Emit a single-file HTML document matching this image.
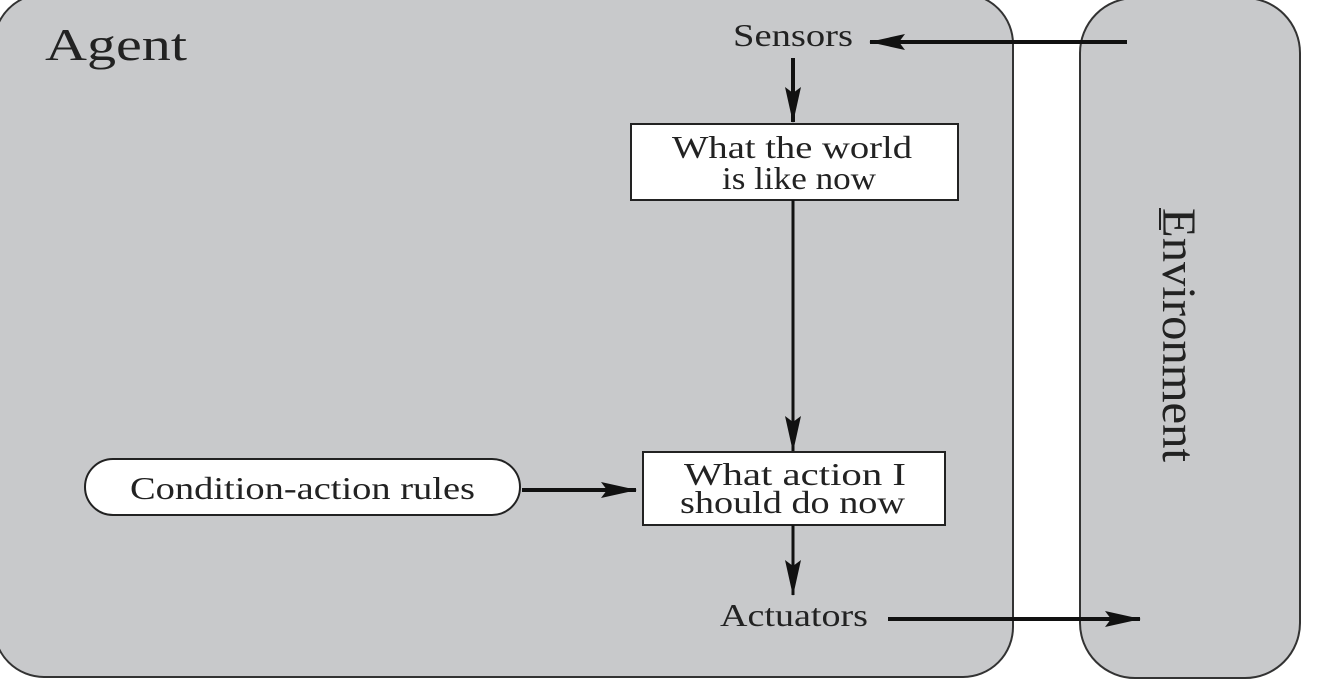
<!DOCTYPE html>
<html><head><style>html,body{margin:0;padding:0;background:#fff;}svg{display:block}</style></head>
<body>
<svg width="1330" height="680" viewBox="0 0 1330 680" xmlns="http://www.w3.org/2000/svg" font-family="Liberation Serif, serif" fill="#222">
<defs>
<marker id="av" markerWidth="36" markerHeight="16" refX="35" refY="8" orient="auto" markerUnits="userSpaceOnUse" viewBox="0 0 36 16">
<path d="M0,0 L36,8 L0,16 L6,8 Z" fill="#111"/></marker>
</defs>
<rect x="-6" y="-6" width="1019" height="683" rx="50" fill="#c8c9cb" stroke="#333" stroke-width="2"/>
<rect x="1080" y="-2" width="220" height="680" rx="55" fill="#c8c9cb" stroke="#333" stroke-width="2"/>
<text x="45" y="60" font-size="46" textLength="142" lengthAdjust="spacingAndGlyphs">Agent</text>
<text x="733" y="46" font-size="32" textLength="120" lengthAdjust="spacingAndGlyphs">Sensors</text>
<line x1="1127" y1="42" x2="870" y2="42" stroke="#111" stroke-width="4" marker-end="url(#av)"/>
<line x1="793" y1="58" x2="793" y2="122" stroke="#111" stroke-width="4" marker-end="url(#av)"/>
<rect x="631" y="124" width="327" height="76" fill="#fff" stroke="#222" stroke-width="2"/>
<text x="672" y="158" font-size="32" textLength="240" lengthAdjust="spacingAndGlyphs">What the world</text>
<text x="722" y="189" font-size="32" textLength="154" lengthAdjust="spacingAndGlyphs">is like now</text>
<line x1="793" y1="200" x2="793" y2="451" stroke="#111" stroke-width="3" marker-end="url(#av)"/>
<rect x="643" y="452" width="302" height="73" fill="#fff" stroke="#222" stroke-width="2"/>
<text x="684" y="485" font-size="32" textLength="222" lengthAdjust="spacingAndGlyphs">What action I</text>
<text x="680" y="513" font-size="32" textLength="225" lengthAdjust="spacingAndGlyphs">should do now</text>
<rect x="85" y="459" width="435" height="56" rx="28" fill="#fff" stroke="#222" stroke-width="2"/>
<text x="130" y="499" font-size="32" textLength="345" lengthAdjust="spacingAndGlyphs">Condition-action rules</text>
<line x1="522" y1="490" x2="636" y2="490" stroke="#111" stroke-width="4" marker-end="url(#av)"/>
<line x1="793" y1="525" x2="793" y2="595" stroke="#111" stroke-width="3" marker-end="url(#av)"/>
<text x="720" y="626" font-size="32" textLength="148" lengthAdjust="spacingAndGlyphs">Actuators</text>
<line x1="888" y1="619" x2="1140" y2="619" stroke="#111" stroke-width="4" marker-end="url(#av)"/>
<line x1="1160" y1="208" x2="1160" y2="230" stroke="#222" stroke-width="2"/>
<text transform="translate(1163,208) rotate(90)" font-size="48" textLength="254" lengthAdjust="spacingAndGlyphs">Environment</text>
</svg>
</body></html>
